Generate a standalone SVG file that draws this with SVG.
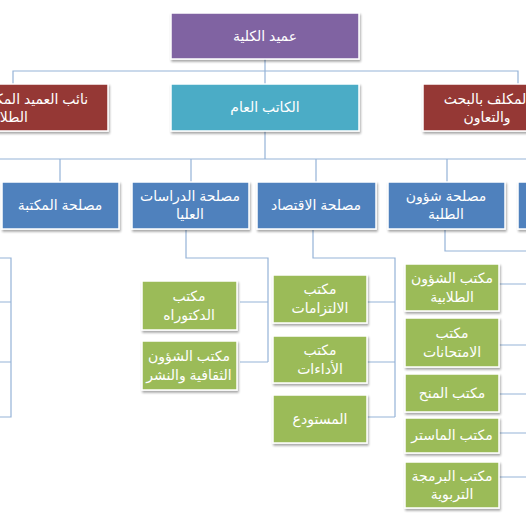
<svg xmlns="http://www.w3.org/2000/svg" width="526" height="526" viewBox="0 0 526 526">
<defs>
<filter id="sh" x="-10%" y="-10%" width="130%" height="140%">
<feDropShadow dx="1" dy="2" stdDeviation="1.2" flood-color="#000" flood-opacity="0.35"/>
</filter>
<style>
.b{stroke:#fff;stroke-width:1.5;filter:url(#sh)}
.pu{fill:#8064A2}.te{fill:#4BACC6}.re{fill:#953735}.bl{fill:#4F81BD}.gr{fill:#9BBB59}
text{font-family:"Liberation Sans","DejaVu Sans",sans-serif;font-size:14px;fill:#fff;text-anchor:middle}
.c{fill:none;stroke:#95B3D7;stroke-width:1.2}
</style>
</defs>
<rect width="526" height="526" fill="#fff"/>
<g id="connectors" class="c">
<path d="M265 59V71M13 84V71H518V84M265 71V84"/>
<path d="M265 131V159M0 159H526M60 159V182M191 159V182M316 159V182M447 159V182"/>
<path d="M186 230V258H268V362M240 302H268M240 362H268"/>
<path d="M313 230V258H395V417M367 302H395M367 362H395M367 417H395"/>
<path d="M445 230V251H527V477M499 284H527M499 345H527M499 394H527M499 433H527M499 477H527"/>
<path d="M0 258H11V417H0M0 302H11M0 362H11"/>
</g>
<g id="n-dean"><rect class="b pu" x="171" y="13" width="188" height="46"/><text x="265" y="41">عميد الكلية</text></g>
<g id="n-sg"><rect class="b te" x="171" y="84" width="188" height="47"/><text x="265" y="112">الكاتب العام</text></g>
<g id="n-vd-students"><rect class="b re" x="-90" y="84" width="198" height="47"/><text x="6" y="104">نائب العميد المكلف بالشؤون</text><text x="6" y="122">الطلابية</text></g>
<g id="n-research"><rect class="b re" x="423" y="84" width="150" height="47"/><text x="487" y="104">المكلف بالبحث</text><text x="487" y="122">والتعاون</text></g>
<g id="n-library"><rect class="b bl" x="2" y="182" width="117" height="47"/><text x="60" y="210">مصلحة المكتبة</text></g>
<g id="n-grad"><rect class="b bl" x="132" y="182" width="117" height="47"/><text x="190" y="201">مصلحة الدراسات</text><text x="190" y="219">العليا</text></g>
<g id="n-econ"><rect class="b bl" x="257" y="182" width="119" height="47"/><text x="316" y="210">مصلحة الاقتصاد</text></g>
<g id="n-students"><rect class="b bl" x="388" y="182" width="117" height="47"/><text x="446" y="201">مصلحة شؤون</text><text x="446" y="219">الطلبة</text></g>
<g id="n-blue5"><rect class="b bl" x="518" y="182" width="117" height="47"/></g>
<g id="n-phd"><rect class="b gr" x="142" y="281" width="95" height="49"/><text x="189" y="301">مكتب</text><text x="189" y="320">الدكتوراه</text></g>
<g id="n-culture"><rect class="b gr" x="142" y="341" width="95" height="49"/><text x="189" y="361">مكتب الشؤون</text><text x="189" y="380">الثقافية والنشر</text></g>
<g id="n-commit"><rect class="b gr" x="273" y="275" width="94" height="48"/><text x="320" y="294">مكتب</text><text x="320" y="313">الالتزامات</text></g>
<g id="n-pay"><rect class="b gr" x="273" y="336" width="94" height="47"/><text x="320" y="355">مكتب</text><text x="320" y="374">الأداءات</text></g>
<g id="n-store"><rect class="b gr" x="273" y="395" width="94" height="48"/><text x="320" y="424">المستودع</text></g>
<g id="n-stuaff"><rect class="b gr" x="405" y="264" width="94" height="47"/><text x="452" y="283">مكتب الشؤون</text><text x="452" y="302">الطلابية</text></g>
<g id="n-exams"><rect class="b gr" x="405" y="318" width="94" height="49"/><text x="452" y="338">مكتب</text><text x="452" y="357">الامتحانات</text></g>
<g id="n-grants"><rect class="b gr" x="405" y="374" width="94" height="38"/><text x="452" y="398">مكتب المنح</text></g>
<g id="n-master"><rect class="b gr" x="405" y="418" width="94" height="35"/><text x="452" y="440">مكتب الماستر</text></g>
<g id="n-prog"><rect class="b gr" x="405" y="462" width="94" height="46"/><text x="452" y="481">مكتب البرمجة</text><text x="452" y="499">التربوية</text></g>
</svg>
